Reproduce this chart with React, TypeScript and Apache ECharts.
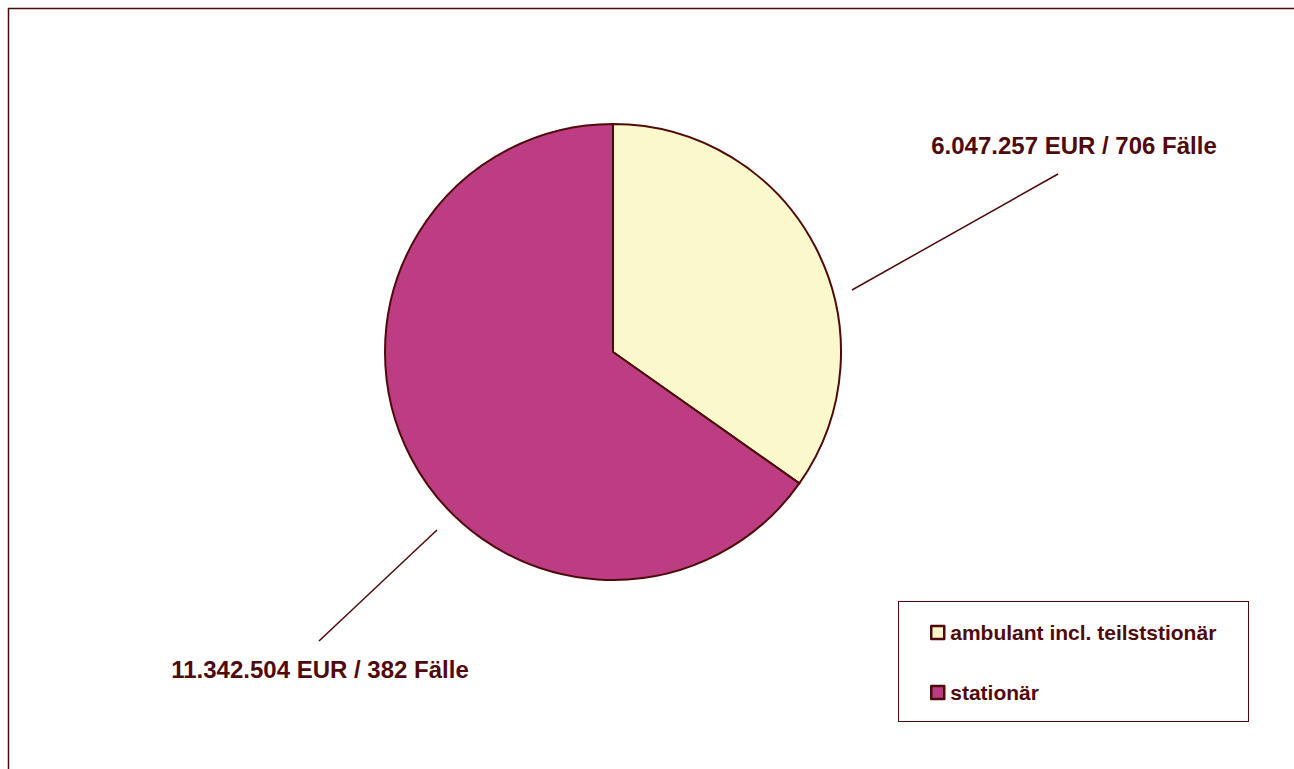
import React, { useEffect, useRef } from "react";
import * as echarts from "echarts";

const categories = ["ambulant incl. teilststionär", "stationär"];
const amounts = [6047257, 11342504];
const cases = [706, 382];
const labelTexts = ["6.047.257 EUR / 706 Fälle", "11.342.504 EUR / 382 Fälle"];
const colors = ["#fbf9cc", "#bd3d82"];

const DARK = "#4f0a0c";

// label layout (page coordinates) per slice
const labelLayouts = [
  { x: 1074, y: 145, line: [[852, 290], [1058, 174], [1058, 174]] },
  { x: 320, y: 669, line: [[437, 530], [319, 641], [319, 641]] },
];

export default function App() {
  const ref = useRef<HTMLDivElement>(null);
  useEffect(() => {
    if (!ref.current) return;
    const chart = echarts.init(ref.current, null, { renderer: "svg" });
    chart.setOption({
      animation: false,
      backgroundColor: "#ffffff",
      textStyle: { fontFamily: "Liberation Sans, Arial, sans-serif" },
      graphic: [
        {
          type: "rect",
          shape: { x: 8.5, y: 8.5, width: 1400, height: 1000 },
          style: { fill: "none", stroke: DARK, lineWidth: 1.5 },
          silent: true,
        },
      ],
      legend: {
        orient: "vertical",
        left: 925,
        top: 617,
        itemWidth: 13,
        itemHeight: 13,
        itemGap: 39,
        icon: "rect",
        itemStyle: { borderColor: DARK, borderWidth: 2.5 },
        textStyle: {
          fontFamily: "Liberation Sans, Arial, sans-serif",
          fontWeight: "bold",
          fontSize: 21,
          color: DARK,
          padding: [0, 0, 0, 1],
        },
        data: categories,
      },
      series: [
        {
          type: "pie",
          center: [613, 352],
          radius: 228,
          startAngle: 90,
          clockwise: true,
          itemStyle: { borderColor: DARK, borderWidth: 2 },
          label: {
            show: true,
            formatter: (p: any) => labelTexts[p.dataIndex],
            fontFamily: "Liberation Sans, Arial, sans-serif",
            fontWeight: "bold",
            fontSize: 24,
            color: DARK,
          },
          labelLine: { show: true, lineStyle: { color: DARK, width: 1.5 } },
          labelLayout: (params: any) => {
            const l = labelLayouts[params.dataIndex];
            return {
              x: l.x,
              y: l.y,
              align: "center",
              verticalAlign: "middle",
              labelLinePoints: l.line,
            };
          },
          emphasis: { disabled: true },
          data: categories.map((name, i) => ({
            name,
            value: amounts[i],
            cases: cases[i],
            itemStyle: { color: colors[i] },
          })),
        },
      ],
    });
    return () => chart.dispose();
  }, []);
  return (
    <div style={{ position: "absolute", left: 0, top: 0, width: 1294, height: 769, overflow: "hidden" }}>
      <div ref={ref} style={{ width: 1294, height: 769 }} />
      <div
        style={{
          position: "absolute",
          left: 898,
          top: 601,
          width: 349,
          height: 119,
          border: `1px solid ${DARK}`,
          pointerEvents: "none",
        }}
      />
    </div>
  );
}
